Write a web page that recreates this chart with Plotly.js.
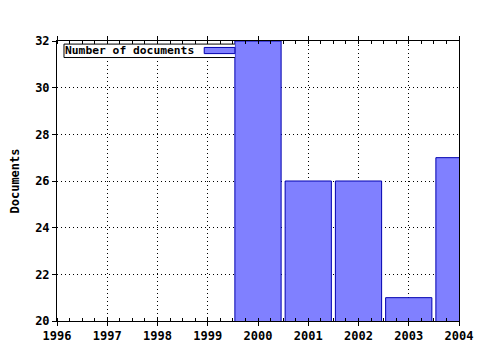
<!DOCTYPE html>
<html>
<head>
<meta charset="utf-8">
<script src="https://cdn.plot.ly/plotly-3.0.1.min.js"></script>
<style>html,body{margin:0;padding:0;background:#fff;}#chart{width:480px;height:350px;}</style>
</head>
<body>
<div id="chart"></div>
<script>
const years = [2000, 2001, 2002, 2003, 2004];
const documents = [32, 26, 26, 21, 27];
const seriesName = 'Number of documents';
const yTitle = 'Documents';
const xTickVals = [1996, 1997, 1998, 1999, 2000, 2001, 2002, 2003, 2004];
const xTickText = ['1996', '1997', '1998', '1999', '2000', '2001', '2002', '2003', '2004'];
const yTickVals = [20, 22, 24, 26, 28, 30, 32];

const barWidth = 0.92;
const font = {family: 'DejaVu Sans Mono, Liberation Mono, monospace', size: 12, color: '#000', weight: 'bold'};
const legendFont = {family: 'DejaVu Sans Mono, Liberation Mono, monospace', size: 11.3, color: '#000', weight: 'bold'};

const trace = {
  type: 'bar',
  x: years,
  y: documents,
  name: seriesName,
  width: barWidth,
  marker: {color: '#8080ff', line: {color: '#0000b0', width: 1}},
  showlegend: false,
  cliponaxis: true,
  hoverinfo: 'none'
};

// legend box ends where the first bar begins (the bar covers the rest)
const boxRight = years[0] - barWidth / 2;
const bx0 = 0.0174, by0 = 0.941, by1 = 0.989;

const layout = {
  width: 480, height: 350,
  paper_bgcolor: '#fff', plot_bgcolor: '#fff',
  margin: {l: 57, r: 21, t: 41, b: 29},
  font: font,
  showlegend: false,
  xaxis: {
    range: [1996, 2004], tickvals: xTickVals, ticktext: xTickText,
    showgrid: true, gridcolor: '#000', griddash: '1px,3px', gridwidth: 1,
    zeroline: false, showline: true, linecolor: '#000', linewidth: 1, mirror: 'ticks',
    ticks: 'outside', ticklen: 4, tickcolor: '#000',
    minor: {dtick: 0.25, ticks: 'inside', ticklen: 3, tickcolor: '#000', showgrid: false},
    tickfont: font, fixedrange: true
  },
  yaxis: {
    range: [20, 32], tickvals: yTickVals,
    showgrid: true, gridcolor: '#000', griddash: '1px,3px', gridwidth: 1,
    zeroline: false, showline: true, linecolor: '#000', linewidth: 1, mirror: true,
    ticks: 'outside', ticklen: 4, tickcolor: '#000',
    tickfont: font,
    title: {text: yTitle, font: font, standoff: 12}, fixedrange: true
  },
  shapes: [
    {type: 'rect', xref: 'paper', yref: 'paper', x0: bx0, x1: 0.44, y0: by0, y1: by1,
     fillcolor: '#fff', line: {width: 0}, layer: 'above'},
    {type: 'rect', xref: 'x', yref: 'paper', x0: 1998, x1: boxRight, y0: by0, y1: by1,
     fillcolor: '#fff', line: {width: 0}, layer: 'above'},
    {type: 'line', xref: 'paper', yref: 'paper', x0: bx0, x1: bx0, y0: by0, y1: by1,
     line: {color: '#000', width: 1}, layer: 'above'},
    {type: 'line', xref: 'x', yref: 'paper', x0: 1996.139, x1: boxRight, y0: by0, y1: by0,
     line: {color: '#000', width: 1}, layer: 'above'},
    {type: 'line', xref: 'x', yref: 'paper', x0: 1996.139, x1: boxRight, y0: by1, y1: by1,
     line: {color: '#000', width: 1}, layer: 'above'},
    {type: 'rect', xref: 'x', yref: 'paper', x0: 1998.93, x1: boxRight, y0: 0.955, y1: 0.977,
     fillcolor: '#8080ff', line: {color: '#0000b0', width: 1}, layer: 'above'}
  ],
  annotations: [
    {xref: 'paper', yref: 'paper', x: 0.014, y: 0.965, xanchor: 'left', yanchor: 'middle',
     text: seriesName, showarrow: false, font: legendFont}
  ]
};

Plotly.newPlot('chart', [trace], layout, {staticPlot: true, displayModeBar: false});
</script>
</body>
</html>
